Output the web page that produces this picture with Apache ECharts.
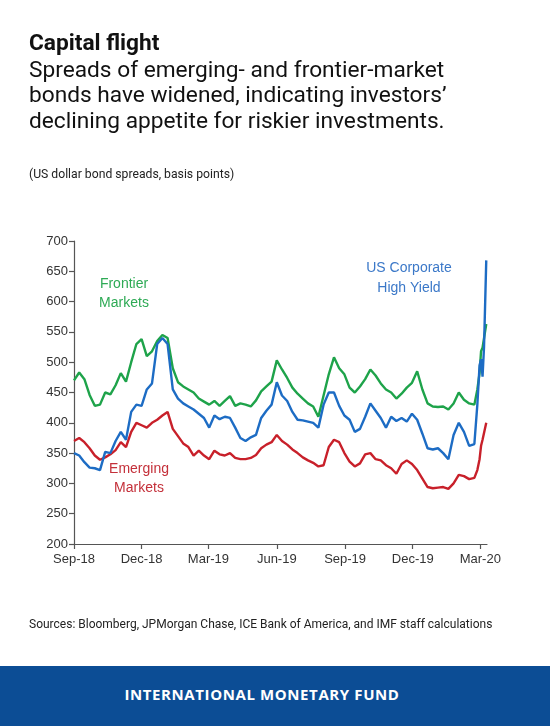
<!DOCTYPE html>
<html><head><meta charset="utf-8">
<script src="https://cdn.jsdelivr.net/npm/echarts@6/dist/echarts.min.js"></script>
<style>
html,body{margin:0;padding:0;background:#fff;}
#page{position:relative;width:550px;height:726px;overflow:hidden;font-family:Roboto,"Noto Sans",sans-serif;color:#111;}
#chart{position:absolute;left:0;top:0;width:550px;height:726px;}
.t{position:absolute;left:29px;white-space:nowrap;z-index:2;}
#title{top:29.5px;font-size:22.7px;line-height:26px;font-weight:700;}
#sub{top:56.5px;font-size:22.7px;line-height:25.5px;}
#unit{top:167px;font-size:12.2px;line-height:14px;color:#222;}
#src{top:617px;font-size:12px;line-height:14px;color:#222;}
#foot{position:absolute;left:0;top:666px;width:550px;height:60px;background:#0c4d95;z-index:2;}
#foottxt{position:absolute;left:0;width:524px;top:17.5px;line-height:20px;text-align:center;color:#fff;font-family:"Open Sans",sans-serif;font-weight:700;font-size:15px;letter-spacing:0.6px;}
</style></head>
<body>
<div id="page">
  <div id="chart"></div>
  <div class="t" id="title">Capital flight</div>
  <div class="t" id="sub">Spreads of emerging- and frontier-market<br>bonds have widened, indicating investors’<br>declining appetite for riskier investments.</div>
  <div class="t" id="unit">(US dollar bond spreads, basis points)</div>
  <div class="t" id="src">Sources: Bloomberg, JPMorgan Chase, ICE Bank of America, and IMF staff calculations</div>
  <div id="foot"><div id="foottxt">INTERNATIONAL MONETARY FUND</div></div>
</div>
<script>
// x positions are days since 1 Sep 2018; weekly observations, then a daily-ish tail in March 2020
const WEEK = 7;
const tickDays = [0, 91, 181, 273, 365, 456, 547];
const tickLabels = ['Sep-18', 'Dec-18', 'Mar-19', 'Jun-19', 'Sep-19', 'Dec-19', 'Mar-20'];

const frontierWeekly = [470,483,472,446,428,430,450,447,462,482,468,500,530,538,510,518,535,545,540,490,
  467,460,455,450,440,435,430,436,428,436,444,428,432,430,427,437,452,460,468,503,
  488,474,458,448,440,432,427,410,445,480,508,490,480,458,450,460,472,488,478,465,
  455,450,440,448,458,466,485,455,432,427,426,427,422,432,450,438,432,430];
const emergingWeekly = [370,375,368,358,346,339,343,348,355,368,360,385,400,396,392,400,405,412,418,390,
  378,366,360,346,354,346,340,354,348,346,350,342,340,340,342,347,358,364,368,380,
  370,364,356,350,343,338,334,328,330,360,372,368,350,336,328,333,348,350,340,338,
  330,325,316,332,338,332,322,308,294,292,293,294,291,300,314,312,307,309];
const usHYWeekly = [350,346,335,326,325,322,352,350,370,385,372,418,430,428,455,465,530,540,530,455,
  440,432,427,422,415,408,392,412,406,410,408,392,375,370,376,380,408,420,430,467,
  445,436,418,405,404,402,400,392,430,450,450,428,412,405,385,390,410,432,420,408,
  392,410,403,408,402,415,405,382,358,356,358,350,340,380,400,385,362,365];

const tailDays = [543, 546, 548, 550, 552, 555];
const frontierTail = [455, 482, 518, 524, 522, 563];
const emergingTail = [322, 340, 362, 372, 370, 400];
const usHYTail = [430, 495, 505, 476, 525, 668];

function build(weekly, tail) {
  return weekly.map((v, i) => [i * WEEK, v]).concat(tailDays.map((d, k) => [d, tail[k]]));
}

const axisColor = '#555';
const labelFont = {fontFamily: '"Liberation Sans", Arial, sans-serif', fontSize: 13, color: '#333'};
const annFont = '14px "Liberation Sans", Arial, sans-serif';

const chart = echarts.init(document.getElementById('chart'), null, {renderer: 'canvas'});
chart.setOption({
  animation: false,
  grid: {left: 74, right: 63, top: 241, bottom: 182},
  xAxis: {
    type: 'value', min: 0, max: 556,
    axisLine: {show: true, lineStyle: {color: axisColor, width: 1.2}},
    axisTick: {show: true, length: 5, customValues: tickDays, lineStyle: {color: axisColor, width: 1.2}},
    axisLabel: Object.assign({customValues: tickDays, margin: 9,
      formatter: v => tickLabels[tickDays.indexOf(v)] || ''}, labelFont),
    splitLine: {show: false}
  },
  yAxis: {
    type: 'value', min: 200, max: 700, interval: 50,
    axisLine: {show: true, lineStyle: {color: axisColor, width: 1.2}},
    axisTick: {show: true, length: 5, lineStyle: {color: axisColor, width: 1.2}},
    axisLabel: Object.assign({margin: 6}, labelFont),
    splitLine: {show: false}
  },
  series: [
    {name: 'Frontier Markets', type: 'line', data: build(frontierWeekly, frontierTail), showSymbol: false,
      lineStyle: {color: '#1ea34a', width: 2.4}, itemStyle: {color: '#1ea34a'}},
    {name: 'Emerging Markets', type: 'line', data: build(emergingWeekly, emergingTail), showSymbol: false,
      lineStyle: {color: '#c8202a', width: 2.4}, itemStyle: {color: '#c8202a'}},
    {name: 'US Corporate High Yield', type: 'line', data: build(usHYWeekly, usHYTail), showSymbol: false,
      lineStyle: {color: '#1d6cc4', width: 2.4}, itemStyle: {color: '#1d6cc4'}}
  ],
  graphic: [
    {type: 'text', x: 124, y: 293.5, style: {text: 'Frontier\nMarkets', fill: '#2eaa55', font: annFont, align: 'center', verticalAlign: 'middle', lineHeight: 19}},
    {type: 'text', x: 409, y: 278, style: {text: 'US Corporate\nHigh Yield', fill: '#3b78c8', font: annFont, align: 'center', verticalAlign: 'middle', lineHeight: 20}},
    {type: 'text', x: 139, y: 478.5, style: {text: 'Emerging\nMarkets', fill: '#c4303a', font: annFont, align: 'center', verticalAlign: 'middle', lineHeight: 19}}
  ]
});
</script>
</body></html>
